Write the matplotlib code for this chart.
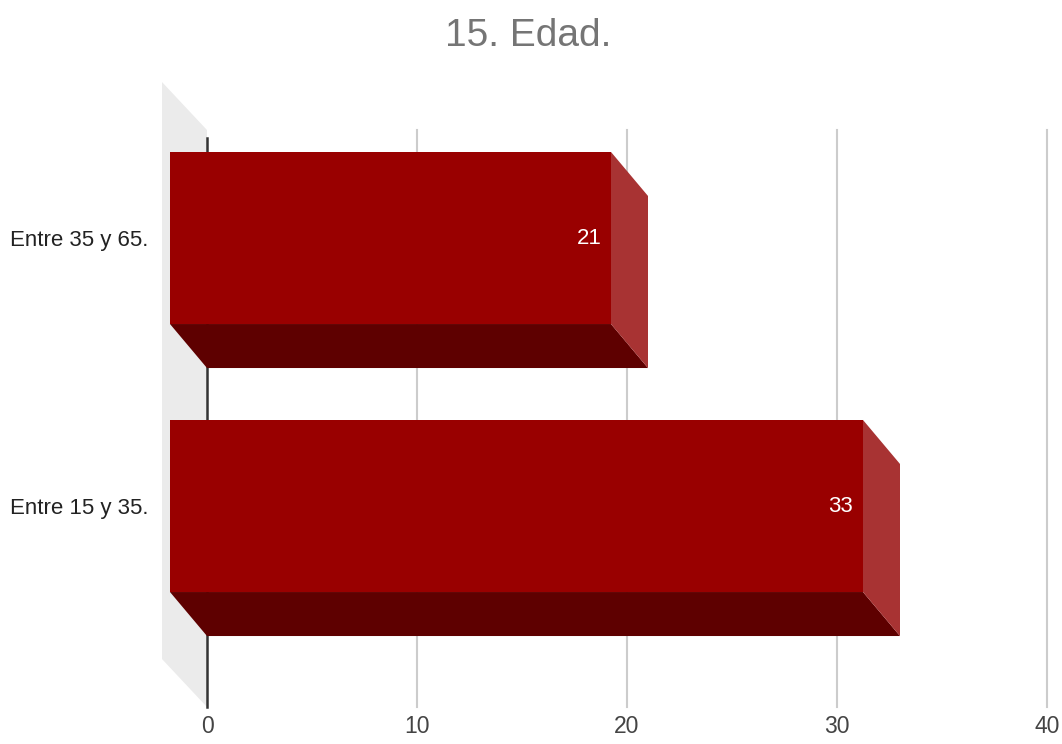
import numpy as np
import matplotlib.pyplot as plt
from matplotlib.patches import Polygon

categories = ['Entre 15 y 35.', 'Entre 35 y 65.']
values = [33, 21]
xticks = [0, 10, 20, 30, 40]
title = '15. Edad.'

plt.rcParams['font.family'] = ['Liberation Sans', 'DejaVu Sans']

# pixel scale of the plot: 21 px per unit on x, 268 px per category on y
px_x = 21.0
px_y = 268.0
bar_h = 0.642
depth_dx = -37 / px_x          # front face sits left of the back face
depth_dy = 44 / px_y           # ... and above it
wall_dx = -45 / px_x
wall_dy = 48 / px_y
plane_lo, plane_hi = -0.586, 1.567

front_col = '#990000'
bottom_col = '#5e0000'
side_col = '#a83333'
wall_col = '#ebebeb'

fig = plt.figure(figsize=(10.62, 7.44), dpi=100)
ax = fig.add_axes([150 / 1062, 32 / 744, 912 / 1062, 642 / 744])
ax.set_xlim((150 - 207) / px_x, (1062 - 207) / px_x)
ax.set_ylim(-162 / px_y, 480 / px_y)
for s in ax.spines.values():
    s.set_visible(False)

# left side wall
wall = [(0, plane_hi), (wall_dx, plane_hi + wall_dy),
        (wall_dx, plane_lo + wall_dy), (0, plane_lo)]
ax.add_patch(Polygon(wall, closed=True, fc=wall_col, ec='none', zorder=1))

# gridlines and zero line on the back plane
for t in xticks[1:]:
    ax.plot([t, t], [plane_lo, plane_hi], color='#cccccc', lw=1.5, zorder=2)
ax.plot([0, 0], [plane_lo, plane_hi - 0.03], color='#333333', lw=1.8, zorder=2)

for i, v in enumerate(values):
    by0, by1 = i - bar_h / 2, i + bar_h / 2
    fx0, fx1 = depth_dx, v + depth_dx
    fy0, fy1 = by0 + depth_dy, by1 + depth_dy
    bottom = [(fx0, fy0), (fx1, fy0), (v, by0), (0, by0)]
    side = [(fx1, fy1), (v, by1), (v, by0), (fx1, fy0)]
    ax.add_patch(Polygon(bottom, closed=True, fc=bottom_col, ec='none', zorder=3))
    ax.add_patch(Polygon(side, closed=True, fc=side_col, ec='none', zorder=3))
    ax.add_patch(Polygon([(fx0, fy0), (fx1, fy0), (fx1, fy1), (fx0, fy1)],
                         closed=True, fc=front_col, ec='none', zorder=4))
    ax.annotate(str(v), xy=(fx1, (fy0 + fy1) / 2), xytext=(-7, 0),
                textcoords='offset points', ha='right', va='center',
                color='white', fontsize=16, zorder=5)

ax.set_xticks(xticks)
ax.set_xticklabels([str(t) for t in xticks], fontsize=16.5, color='#444444')
ax.set_yticks(np.arange(len(categories)) + depth_dy)
ax.set_yticklabels(categories, fontsize=16, color='#222222')
ax.tick_params(axis='both', length=0)
ax.tick_params(axis='x', pad=2)
ax.tick_params(axis='y', pad=1)

fig.text(528 / 1062, 1 - 36 / 744, title, ha='center', va='center',
         fontsize=28, color='#757575')

fig.savefig('out.png', dpi=100)
